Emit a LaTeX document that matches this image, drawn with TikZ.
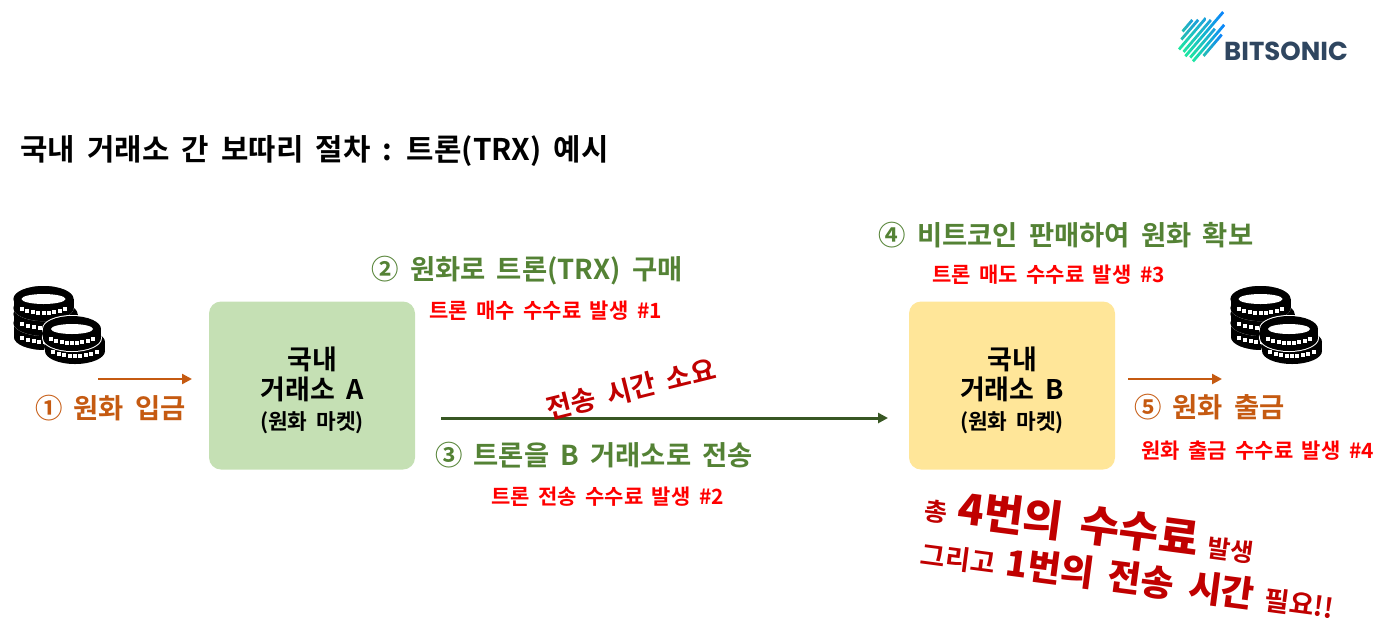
\documentclass[tikz,border=0pt]{standalone}
\usepackage{fontspec}
\setmainfont[WordSpace=1.8]{Noto Sans CJK KR Bold}
\newfontfamily\stampfont[WordSpace=1.8]{Noto Sans CJK KR Black}
\newfontfamily\logofont{Poppins Bold}
\usepackage{tikz}
\usetikzlibrary{positioning, arrows.meta}

\definecolor{stepgreen}{HTML}{548235}
\definecolor{steporange}{HTML}{C55A11}
\definecolor{sendgreen}{HTML}{385723}
\definecolor{feered}{HTML}{FF0000}
\definecolor{stampred}{HTML}{C00000}
\definecolor{logoblue}{HTML}{2F4660}
\definecolor{boxgreen}{HTML}{C5E0B4}
\definecolor{boxyellow}{HTML}{FFE699}
\definecolor{logomint}{HTML}{20E8A0}
\definecolor{logoteal}{HTML}{24C0B0}
\definecolor{logosky}{HTML}{1C9CE0}
\definecolor{logodeep}{HTML}{0A80FF}

\begin{document}
\begin{tikzpicture}[
    x=0.5pt, y=-0.5pt,
    title/.style={font=\fontsize{14.9}{17}\selectfont, text=black},
    exbox/.style={rectangle, rounded corners=6pt, minimum width=103pt, minimum height=84pt,
                  align=center, font=\fontsize{13.5}{15}\selectfont},
    stepgr/.style={font=\fontsize{13.7}{16}\selectfont, text=stepgreen},
    stepor/.style={font=\fontsize{13.7}{16}\selectfont, text=steporange},
    fee/.style={font=\fontsize{10.5}{12}\selectfont, text=feered},
    stamp/.style={text=stampred, inner sep=0pt},
    flow/.style={-{Triangle[length=5pt, width=5pt]}, line width=1.2pt},
    coins/.pic={
        \foreach \cx/\cy/\rx/\hw in {45/328/31/0.1, 45.5/314/32/0.1, 43.5/299/30/0.1, 75/342/30/1, 72/329/29/1} {
            \draw[white, line width=\hw pt, fill=black] (\cx,\cy+9) ellipse[x radius=\rx, y radius=13];
            \draw[white, line width=\hw pt, fill=black] (\cx,\cy) ellipse[x radius=\rx, y radius=13];
            \fill[black] (\cx-\rx,\cy) rectangle (\cx+\rx,\cy+9);
            \fill[black] (\cx,\cy+9) ellipse[x radius=\rx, y radius=13];
            \fill[black] (\cx,\cy) ellipse[x radius=\rx, y radius=13];
            \fill[white] (\cx,\cy) ellipse[x radius=\rx-8, y radius=5];
            \foreach \k in {-4,...,4}
                \fill[white] ({\cx+\k*(\rx-5)/4.6-2},{\cy+14-0.22*\k*\k-2}) rectangle ++(4,4);
        }
    }
]
    \useasboundingbox (0,0) rectangle (1400,638);

    % === Logo ===
    \foreach \xa/\ya/\xb/\yb/\ca/\cb in {
        1182.6/31.4/1192.3/20/logoteal/logosky, 1181.3/39.5/1198.2/19.8/logoteal/logosky,
        1179/49.4/1205.7/18.2/logomint/logosky, 1183.5/51.9/1210.8/20/logomint/logosky,
        1185.4/56.2/1223.1/12.1/logomint/logodeep, 1190.2/57.6/1214.9/28.7/logomint/logosky,
        1193/61.3/1224.2/24.8/logomint/logodeep, 1203.5/55.9/1221.7/34.6/logoteal/logodeep}
        \shade[left color=\ca, right color=\cb]
            (\xa-1,\ya-1) -- (\xb-1,\yb-1) -- (\xb+1,\yb+1) -- (\xa+1,\ya+1) -- cycle;
    \node[font=\logofont\fontsize{13}{15}\selectfont, text=logoblue, inner sep=0pt] (logo) at (1286,51) {BITSONIC};

    % === Title ===
    \node[title, anchor=west, inner sep=0pt] (head) at (20,151) {국내 거래소 간 보따리 절차 : 트론(TRX) 예시};

    % === Exchange boxes ===
    \node[exbox, fill=boxgreen] (exa) at (312,385.5) {\rule{0pt}{16pt}국내\\거래소 A\\{\fontsize{10.7}{12}\selectfont (원화 마켓)}};
    \node[exbox, fill=boxyellow] (exb) at (1012,385.5) {\rule{0pt}{16pt}국내\\거래소 B\\{\fontsize{10.7}{12}\selectfont (원화 마켓)}};

    % === Coins ===
    \pic at (0,0) {coins};
    \pic at (1217,0) {coins};

    % === Arrows ===
    \coordinate (ina) at (98,379);
    \coordinate (inb) at (192,379);
    \draw[flow, steporange] (ina) -- (inb);
    \coordinate (outa) at (1128,379);
    \coordinate (outb) at (1222,379);
    \draw[flow, steporange] (outa) -- (outb);
    \coordinate (senda) at (441,418);
    \coordinate (sendb) at (888,418);
    \draw[flow, line width=1.5pt, sendgreen] (senda) -- (sendb);

    % === Step labels ===
    \node[stepor] (s1) at (110.5,408) {① 원화 입금};
    \node[stepgr] (s2) at (527,271) {② 원화로 트론(TRX) 구매};
    \node[stepgr] (s3) at (594,455) {③ 트론을 B 거래소로 전송};
    \node[stepgr] (s4) at (1066,235) {④ 비트코인 판매하여 원화 확보};
    \node[stepor] (s5) at (1209.5,407) {⑤ 원화 출금};

    % === Fee labels ===
    \node[fee] (f1) at (545.5,311) {트론 매수 수수료 발생 \#1};
    \node[fee] (f2) at (607.5,497) {트론 전송 수수료 발생 \#2};
    \node[fee] (f3) at (1048.5,275) {트론 매도 수수료 발생 \#3};
    \node[fee] (f4) at (1257.5,451) {원화 출금 수수료 발생 \#4};

    % === Stamps ===
    \node[stamp, rotate=14, font=\fontsize{13.7}{15}\selectfont] (time) at (631,389) {전송 시간 소요};
    \node[stamp, rotate=-7.5] (tot) at (1090,525) {\fontsize{12.5}{14}\selectfont 총 {\stampfont\fontsize{21.5}{23}\selectfont 4번의 수수료} 발생};
    \node[stamp, rotate=-7.5] (tot2) at (1128,578) {\fontsize{13.5}{15}\selectfont 그리고 {\stampfont\fontsize{18}{20}\selectfont 1번의 전송 시간} 필요!!};
\end{tikzpicture}
\end{document}
